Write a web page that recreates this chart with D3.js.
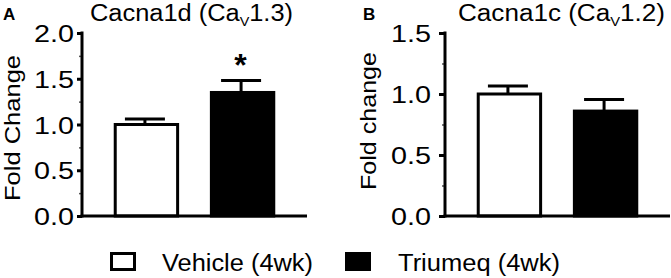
<!DOCTYPE html>
<html>
<head>
<meta charset="utf-8">
<script src="https://cdn.jsdelivr.net/npm/d3@7"></script>
<style>
  body { margin: 0; background: #fff; }
  text { font-family: "Liberation Sans", Arial, sans-serif; fill: #000; }
</style>
</head>
<body>
<div id="chart"></div>
<script>
// data
var groups = ["Vehicle (4wk)", "Triumeq (4wk)"];
var cacna1dMean = [1.00, 1.35];
var cacna1dSem = [0.06, 0.13];
var cacna1cMean = [1.00, 0.86];
var cacna1cSem = [0.065, 0.095];
var ticksA = [0, 0.5, 1.0, 1.5, 2.0];
var ticksB = [0, 0.5, 1.0, 1.5];
var fills = ["#fff", "#000"];

var svg = d3.select("#chart")
  .append("svg")
  .attr("width", 671)
  .attr("height", 278);

// stretch text horizontally to the width it has in the figure
function fit(sel, w) {
  sel.attr("textLength", w).attr("lengthAdjust", "spacingAndGlyphs");
}

function panel(opt) {
  var g = svg.append("g");

  var x = d3.scaleBand()
    .domain(groups)
    .range([opt.left, opt.right])
    .paddingInner(0.32)
    .paddingOuter(0.33);

  var y = d3.scaleLinear()
    .domain([0, opt.max])
    .range([216, 33]);

  var data = groups.map(function(d, i) {
    return {name: d, mean: opt.mean[i], sem: opt.sem[i], fill: fills[i]};
  });

  // bars
  g.selectAll(".bar")
    .data(data)
    .enter()
    .append("rect")
    .attr("x", function(d) { return x(d.name) + 1.5; })
    .attr("width", x.bandwidth() - 3)
    .attr("y", function(d) { return y(d.mean); })
    .attr("height", function(d) { return y(0) - y(d.mean); })
    .attr("fill", function(d) { return d.fill; })
    .attr("stroke", "#000")
    .attr("stroke-width", 3);

  // error bars (upper only)
  var eb = g.selectAll(".err")
    .data(data)
    .enter()
    .append("g");
  eb.append("line")
    .attr("x1", function(d) { return x(d.name) + x.bandwidth() / 2 - 1.5; })
    .attr("x2", function(d) { return x(d.name) + x.bandwidth() / 2 - 1.5; })
    .attr("y1", function(d) { return y(d.mean); })
    .attr("y2", function(d) { return y(d.mean + d.sem); })
    .attr("stroke", "#000")
    .attr("stroke-width", 3);
  eb.append("line")
    .attr("x1", function(d) { return x(d.name) + x.bandwidth() / 2 - 21.5; })
    .attr("x2", function(d) { return x(d.name) + x.bandwidth() / 2 + 18.5; })
    .attr("y1", function(d) { return y(d.mean + d.sem); })
    .attr("y2", function(d) { return y(d.mean + d.sem); })
    .attr("stroke", "#000")
    .attr("stroke-width", 3);

  // minor ticks
  g.append("g")
    .attr("transform", "translate(" + opt.left + ",0)")
    .call(d3.axisLeft(y).tickValues(d3.range(0.25, opt.max, 0.5)).tickSize(3).tickFormat(""))
    .call(function(a) {
      a.select(".domain").remove();
      a.selectAll("line").attr("stroke", "#555").attr("stroke-width", 1.5);
    });

  // Y axis
  var ya = g.append("g")
    .attr("transform", "translate(" + opt.left + ",0)")
    .call(d3.axisLeft(y).tickValues(opt.ticks).tickSize(opt.tick).tickSizeOuter(0)
      .tickPadding(opt.pad).tickFormat(d3.format(".1f")));
  ya.select(".domain").attr("stroke-width", 3).attr("d", "M0," + (y(0) + 1.5) + "V" + (y(opt.max) - 1.5));
  ya.selectAll("line").attr("stroke-width", 3);
  ya.selectAll("text")
    .style("font-size", "24px")
    .attr("dy", "0.36em")
    .call(fit, 40);

  // X axis line
  g.append("line")
    .attr("x1", opt.left - 1.5)
    .attr("x2", opt.right)
    .attr("y1", y(0))
    .attr("y2", y(0))
    .attr("stroke", "#000")
    .attr("stroke-width", 3);

  // title with subscript
  var t = g.append("text")
    .attr("x", opt.titleX)
    .attr("y", 21)
    .style("font-size", "23px");
  t.append("tspan").text(opt.title);
  t.append("tspan").text("V").style("font-size", "13px").attr("dy", 5);
  t.append("tspan").text(opt.sub).attr("dy", -5);
  t.call(fit, opt.titleW);

  // panel letter
  g.append("text")
    .attr("x", opt.letterX)
    .attr("y", 20)
    .style("font-size", "17px")
    .style("font-weight", "bold")
    .text(opt.letter);

  // y label
  g.append("text")
    .attr("transform", "translate(" + opt.labelX + "," + opt.labelY + ")rotate(-90)")
    .attr("text-anchor", "middle")
    .style("font-size", "22px")
    .text(opt.label)
    .call(fit, opt.labelW);

  return {x: x, y: y, g: g, data: data};
}

var a = panel({
  left: 82, right: 307, max: 2.0, ticks: ticksA, tick: 5, pad: 3,
  mean: cacna1dMean, sem: cacna1dSem,
  title: "Cacna1d (Ca", sub: "1.3)", titleX: 90, titleW: 203,
  letter: "A", letterX: 3,
  label: "Fold Change", labelX: 20, labelY: 128, labelW: 146
});

var b = panel({
  left: 445, right: 670, max: 1.5, ticks: ticksB, tick: 6, pad: 8,
  mean: cacna1cMean, sem: cacna1cSem,
  title: "Cacna1c (Ca", sub: "1.2)", titleX: 458, titleW: 207,
  letter: "B", letterX: 363,
  label: "Fold change", labelX: 376, labelY: 121, labelW: 138
});

// significance star over Triumeq in panel A
a.g.append("text")
  .attr("x", a.x(groups[1]) + a.x.bandwidth() / 2 - 2)
  .attr("y", a.y(cacna1dMean[1] + cacna1dSem[1]) - 5)
  .attr("text-anchor", "middle")
  .style("font-size", "32px")
  .style("font-weight", "bold")
  .text("*");

// legend
var legend = svg.append("g");
var lx = [110, 345];
var tx = [162, 398];
var tw = [151, 162];
groups.forEach(function(name, i) {
  legend.append("rect")
    .attr("x", lx[i] + 1.5)
    .attr("y", 253.5)
    .attr("width", 23)
    .attr("height", 16)
    .attr("fill", fills[i])
    .attr("stroke", "#000")
    .attr("stroke-width", 3);
  legend.append("text")
    .attr("x", tx[i])
    .attr("y", 271)
    .style("font-size", "23px")
    .text(name)
    .call(fit, tw[i]);
});
</script>
</body>
</html>
